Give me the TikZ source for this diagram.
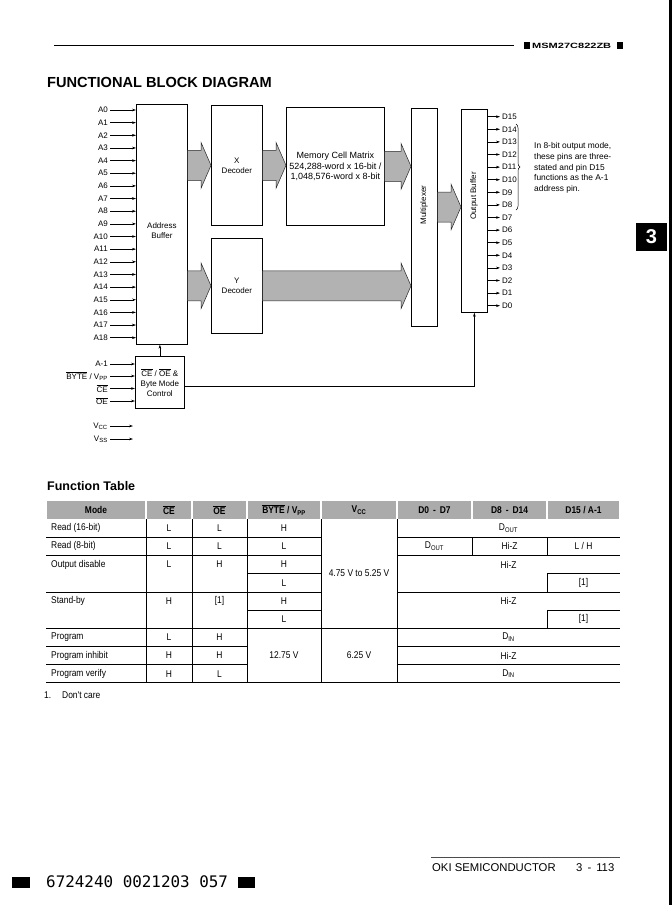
\documentclass[tikz,border=0pt]{standalone}
\usepackage{fontspec}
\setmainfont{Liberation Sans}
\newfontfamily\narrowfont[FakeStretch=0.86]{Liberation Sans}
\newfontfamily\widefont[FakeStretch=1.45]{Liberation Sans}
\newfontfamily\segfont{DejaVu Sans Mono}
\usetikzlibrary{positioning, calc, arrows.meta, decorations.pathreplacing}
\newcommand{\dgfont}{\fontsize{8}{10}\selectfont}
\newcommand{\tbfont}{\narrowfont\fontsize{9.8}{11}\selectfont}
\newcommand{\ovl}[1]{$\overline{\mbox{#1}}$}
% wide shaded bus arrow between two points on one line
\newcommand{\fatarrow}[2]{%
  \path #1 coordinate (fa1) #2 coordinate (fa2);
  \filldraw[fat] let \p1=(fa1), \p2=(fa2) in
    (\x1,\y1+15pt) -- (\x2-10pt,\y1+15pt) -- (\x2-10pt,\y1+23pt) -- (\x2,\y1)
    -- (\x2-10pt,\y1-23pt) -- (\x2-10pt,\y1-15pt) -- (\x1,\y1-15pt) -- cycle;}

\begin{document}
\begin{tikzpicture}[x=1pt, y=-1pt, >={Stealth[length=4pt,width=2.6pt]},
    blk/.style={draw, line width=0.7pt, inner sep=1pt, align=center, font=\dgfont},
    fat/.style={fill=black!30, draw=black!85, line width=0.5pt},
    pin/.style={font=\dgfont, inner sep=2pt},
    sig/.style={->, line width=0.5pt},
    cell/.style={font=\tbfont, inner sep=0pt},
    hdr/.style={font=\tbfont\bfseries, inner sep=0pt}]
    \useasboundingbox (0,0) rectangle (672,905);

    % Page header
    \draw[line width=0.8pt] (54,45) -- (514,45);
    \fill (524,42) rectangle (530,49);
    \node[anchor=west, font=\widefont\fontsize{7.6}{9}\selectfont\bfseries, inner sep=0pt] (part) at (532,45.5) {MSM27C822ZB};
    \fill (617,42) rectangle (623,49);
    \node[anchor=west, font=\fontsize{14.6}{16}\selectfont\bfseries, inner sep=0pt] (title) at (47,82) {FUNCTIONAL BLOCK DIAGRAM};
    \fill (636,223) rectangle (667,251);
    \node[white, font=\fontsize{20}{20}\selectfont\bfseries] (tab) at (651.5,237) {3};
    \fill (669,0) rectangle (672,905);

    % Blocks
    \node[blk, minimum width=51, minimum height=240, anchor=north west] (ab) at (136,104) {\\[8pt]Address\\Buffer};
    \node[blk, minimum width=51, minimum height=120, anchor=north west] (xdec) at (211,105) {X\\Decoder};
    \node[blk, minimum width=51, minimum height=95, anchor=north west] (ydec) at (211,238) {Y\\Decoder};
    \node[blk, minimum width=98, minimum height=118, anchor=north west, font=\fontsize{9}{10.5}\selectfont] (mem) at (286,107) {Memory Cell Matrix\\524,288-word x 16-bit /\\1,048,576-word x 8-bit};
    \node[blk, minimum width=26, minimum height=218, anchor=north west] (mux) at (411,108) {};
    \node[blk, minimum width=26, minimum height=203, anchor=north west] (ob) at (461,109) {};
    \node[rotate=90, font=\dgfont] at (424,205) {Multiplexer};
    \node[rotate=90, font=\dgfont] at (474,196) {Output Buffer};
    \node[blk, minimum width=49, minimum height=52, anchor=north west] (ctrl) at (135,356) {\ovl{CE} / \ovl{OE} \&\\Byte Mode\\Control};

    % Buses
    \fatarrow{(ab.east |- xdec.west)}{(xdec.west)}
    \fatarrow{(ab.east |- ydec.west)}{(ydec.west)}
    \fatarrow{(xdec.east)}{(mem.west |- xdec.east)}
    \fatarrow{(mem.east)}{(mux.west |- mem.east)}
    \fatarrow{(ydec.east)}{(mux.west |- ydec.east)}
    \coordinate (mo) at (437,207);
    \fatarrow{(mux.east |- mo)}{(ob.west |- mo)}

    % Address inputs
    \foreach \i in {0,...,18}{
      \node[pin, anchor=east] (a\i) at (110,{110+12.65*\i}) {A\i};
      \draw[sig] (a\i.east) -- (a\i -| ab.west);
    }

    % Data outputs
    \foreach \i in {0,...,15}{
      \node[pin, anchor=west] (d\i) at (500,{305.7-12.6*\i}) {D\i};
      \draw[sig] (d\i -| ob.east) -- (d\i.west);
    }
    \draw[line width=0.5pt, decorate, decoration={brace, amplitude=4pt}] (516,124) -- (516,210);
    \node[anchor=west, align=left, font=\fontsize{8.4}{10.6}\selectfont, inner sep=0pt] (note) at (534,168)
      {In 8-bit output mode,\\these pins are three-\\stated and pin D15\\functions as the A-1\\address pin.};

    % Control inputs
    \node[pin, anchor=east] (am1) at (110,364) {A-1};
    \node[pin, anchor=east] (byte) at (110,376) {\ovl{BYTE} / V\textsubscript{PP}};
    \node[pin, anchor=east] (ce) at (110,388.5) {\ovl{CE}};
    \node[pin, anchor=east] (oe) at (110,401) {\ovl{OE}};
    \foreach \n in {am1,byte,ce,oe}
      \draw[sig] (\n.east) -- (\n -| ctrl.west);
    \draw[sig] (ctrl.north) -- (ctrl.north |- ab.south);
    \draw[sig] ([yshift=-4pt]ctrl.east) -| (ob.south);

    % Supply
    \node[pin, anchor=east] (vcc) at (110,426) {V\textsubscript{CC}};
    \node[pin, anchor=east] (vss) at (110,439) {V\textsubscript{SS}};
    \coordinate (vccend) at (133,426);
    \coordinate (vssend) at (133,439);
    \draw[sig] (vcc.east) -- (vccend);
    \draw[sig] (vss.east) -- (vssend);

    % Function table
    \node[anchor=west, font=\fontsize{12.5}{14}\selectfont\bfseries, inner sep=0pt] (ftitle) at (47,486) {Function Table};
    \foreach \xa/\xb in {46/146,146/192,192/247,247/321,321/397,397/472,472/547,547/620}
      \fill[black!33] (\xa+1,501) rectangle (\xb-1,519);
    \node[hdr] at (96,510) {Mode};
    \node[hdr] at (169,510) {\ovl{CE}};
    \node[hdr] at (219.5,510) {\ovl{OE}};
    \node[hdr] at (284,510) {\ovl{BYTE} / V\textsubscript{PP}};
    \node[hdr] at (359,510) {V\textsubscript{CC}};
    \node[hdr] at (434.5,510) {D0 \,-\, D7};
    \node[hdr] at (509.5,510) {D8 \,-\, D14};
    \node[hdr] at (583.5,510) {D15 / A-1};

    \begin{scope}[line width=0.6pt]
      \foreach \y in {537.2,555.4,591.8}{
        \draw (46,\y) -- (321,\y);
        \draw (397,\y) -- (620,\y);
      }
      \foreach \y in {573.6,610}{
        \draw (247,\y) -- (321,\y);
        \draw (547,\y) -- (620,\y);
      }
      \foreach \y in {646.4,664.6}{
        \draw (46,\y) -- (247,\y);
        \draw (397,\y) -- (620,\y);
      }
      \draw (46,628.2) -- (620,628.2);
      \draw[line width=0.8pt] (46,682.8) -- (620,682.8);
      \foreach \x in {146,192,247,321,397}
        \draw (\x,519) -- (\x,682.8);
      \draw (472,537.2) -- (472,555.4);
      \draw (547,537.2) -- (547,555.4);
      \draw (547,573.6) -- (547,591.8);
      \draw (547,610) -- (547,628.2);
    \end{scope}

    % Table entries
    \foreach \y/\t in {528.1/Read (16-bit),546.3/Read (8-bit),564.5/Output disable,600.9/Stand-by,637.3/Program,655.5/Program inhibit,673.7/Program verify}
      \node[cell, anchor=west] at (51,\y) {\t};
    \foreach \y/\a/\b in {528.1/L/L,546.3/L/L,564.5/L/H,600.9/H/[1],637.3/L/H,655.5/H/H,673.7/H/L}{
      \node[cell] at (169,\y) {\a};
      \node[cell] at (219.5,\y) {\b};
    }
    \foreach \y/\t in {528.1/H,546.3/L,564.5/H,582.7/L,600.9/H,619.1/L}
      \node[cell] at (284,\y) {\t};
    \node[cell] at (284,655.5) {12.75 V};
    \node[cell] at (359,573.6) {4.75 V to 5.25 V};
    \node[cell] at (359,655.5) {6.25 V};
    \node[cell] at (508.5,528.1) {D\textsubscript{OUT}};
    \node[cell] at (434.5,546.3) {D\textsubscript{OUT}};
    \node[cell] at (509.5,546.3) {Hi-Z};
    \node[cell] at (583.5,546.3) {L / H};
    \node[cell] at (508.5,564.5) {Hi-Z};
    \node[cell] at (583.5,582.7) {[1]};
    \node[cell] at (508.5,600.9) {Hi-Z};
    \node[cell] at (583.5,619.1) {[1]};
    \node[cell] at (508.5,637.3) {D\textsubscript{IN}};
    \node[cell] at (508.5,655.5) {Hi-Z};
    \node[cell] at (508.5,673.7) {D\textsubscript{IN}};
    \node[cell, anchor=west] (fn) at (44,695) {1.\hspace{11pt}Don't care};

    % Page footer
    \draw[line width=0.5pt, black!70] (431,857) -- (620,857);
    \node[anchor=west, font=\fontsize{11.3}{13}\selectfont, inner sep=0pt] (oki) at (432,868) {OKI SEMICONDUCTOR};
    \node[anchor=west, font=\fontsize{11.3}{13}\selectfont, inner sep=0pt] (pg) at (576,868) {3 \,-\, 113};
    \fill (12,877) rectangle (30,888);
    \node[anchor=west, font=\segfont\fontsize{15.9}{17}\selectfont, inner sep=0pt] (code) at (46,882) {6724240 0021203 057};
    \fill (238,877) rectangle (255,888);
\end{tikzpicture}
\end{document}
